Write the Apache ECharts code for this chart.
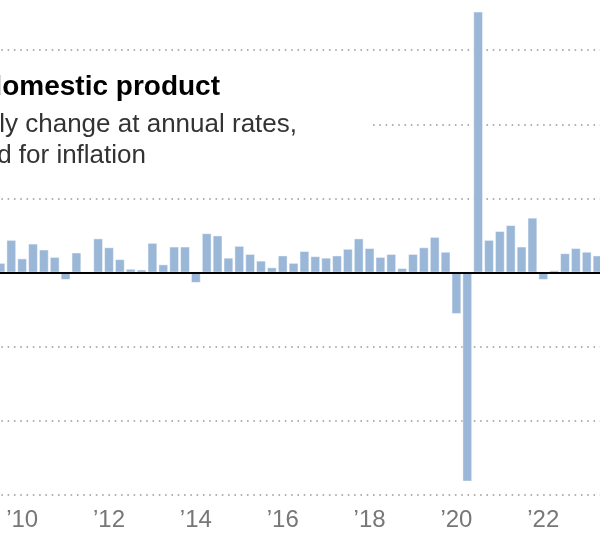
<!DOCTYPE html>
<html>
<head>
<meta charset="utf-8">
<script src="https://cdn.jsdelivr.net/npm/echarts@6/dist/echarts.min.js"></script>
<style>
  html, body { margin: 0; padding: 0; background: #fff; width: 600px; height: 549px; overflow: hidden; position: relative; }
  /* The chart is cropped on every side, as in the reference */
  #chart { position: absolute; left: -5px; top: -24px; width: 608px; height: 593px; }
</style>
</head>
<body>
<div id="chart"></div>
<script>
// Quarters shown (visible window of the chart)
const quarters = [
  "2009 Q3","2009 Q4",
  "2010 Q1","2010 Q2","2010 Q3","2010 Q4",
  "2011 Q1","2011 Q2","2011 Q3","2011 Q4",
  "2012 Q1","2012 Q2","2012 Q3","2012 Q4",
  "2013 Q1","2013 Q2","2013 Q3","2013 Q4",
  "2014 Q1","2014 Q2","2014 Q3","2014 Q4",
  "2015 Q1","2015 Q2","2015 Q3","2015 Q4",
  "2016 Q1","2016 Q2","2016 Q3","2016 Q4",
  "2017 Q1","2017 Q2","2017 Q3","2017 Q4",
  "2018 Q1","2018 Q2","2018 Q3","2018 Q4",
  "2019 Q1","2019 Q2","2019 Q3","2019 Q4",
  "2020 Q1","2020 Q2","2020 Q3","2020 Q4",
  "2021 Q1","2021 Q2","2021 Q3","2021 Q4",
  "2022 Q1","2022 Q2","2022 Q3","2022 Q4",
  "2023 Q1","2023 Q2"
];
// Real GDP, quarterly change at annual rates (%)
const gdpChange = [
  1.3, 4.4,
  1.9, 3.9, 3.1, 2.1,
  -1.0, 2.7, 0.0, 4.6,
  3.4, 1.8, 0.5, 0.4,
  4.0, 1.1, 3.5, 3.5,
  -1.4, 5.3, 5.0, 2.0,
  3.6, 2.5, 1.6, 0.7,
  2.3, 1.3, 2.9, 2.2,
  2.0, 2.3, 3.2, 4.6,
  3.3, 2.1, 2.5, 0.6,
  2.5, 3.4, 4.8, 2.8,
  -5.6, -28.2, 35.2, 4.4,
  5.6, 6.4, 3.5, 7.4,
  -1.0, 0.3, 2.6, 3.3,
  2.8, 2.3
];
// Years labelled on the x axis (at each year's first quarter)
const labelYears = ["2010","2012","2014","2016","2018","2020","2022"];
const titleText = "Gross domestic product";
const subtitleLines = ["Quarterly change at annual rates,", "adjusted for inflation"];

// page -> container offset (container is shifted by -5, -24)
const DX = 5, DY = 24;

const chart = echarts.init(document.getElementById('chart'), null, { renderer: 'canvas' });

const isLabelled = (val) => {
  const [y, q] = String(val).split(' ');
  return q === 'Q1' && labelYears.includes(y);
};

const option = {
  animation: false,
  backgroundColor: '#fff',
  grid: { left: 0, right: 0, top: 0, bottom: 0, containLabel: false },
  xAxis: {
    type: 'category',
    data: quarters,
    position: 'bottom',
    offset: -71,
    axisLine: { show: false, onZero: false },
    axisTick: { show: false },
    splitLine: { show: false },
    axisLabel: {
      interval: (idx, val) => isLabelled(val),
      hideOverlap: false,
      formatter: (val) => '\u2019' + String(val).slice(2, 4),
      color: '#777',
      fontSize: 24,
      fontFamily: '"Liberation Sans", Arial, sans-serif',
      margin: 10
    }
  },
  yAxis: {
    type: 'value',
    min: -40,
    max: 40,
    interval: 10,
    axisLine: { show: false },
    axisTick: { show: false },
    axisLabel: { show: false },
    splitLine: {
      show: true,
      lineStyle: { color: '#999', width: 1.6, type: [1.6, 4.7] }
    }
  },
  series: [{
    type: 'bar',
    data: gdpChange,
    barWidth: 9.8,
    itemStyle: { color: '#9ab7d7', borderColor: 'rgba(255,255,255,0.45)', borderWidth: 1 },
    markLine: {
      silent: true,
      symbol: 'none',
      label: { show: false },
      lineStyle: { color: '#000', width: 2, type: 'solid' },
      data: [{ yAxis: 0 }],
      z: 10
    }
  }],
  graphic: [
    {
      type: 'rect', z: 50,
      shape: { x: 0, y: 62 + DY, width: 372 + DX, height: 122 },
      style: { fill: '#fff' }
    },
    {
      type: 'text', z: 60, x: 220 + DX, y: 101 + DY,
      style: {
        text: titleText,
        font: 'bold 28px "Liberation Sans", Arial, sans-serif',
        fill: '#000',
        textAlign: 'right',
        textVerticalAlign: 'bottom'
      }
    },
    {
      type: 'text', z: 60, x: 297 + DX, y: 138 + DY,
      style: {
        text: subtitleLines[0],
        font: '26px "Liberation Sans", Arial, sans-serif',
        fill: '#333',
        textAlign: 'right',
        textVerticalAlign: 'bottom'
      }
    },
    {
      type: 'text', z: 60, x: 146 + DX, y: 169 + DY,
      style: {
        text: subtitleLines[1],
        font: '26px "Liberation Sans", Arial, sans-serif',
        fill: '#333',
        textAlign: 'right',
        textVerticalAlign: 'bottom'
      }
    }
  ]
};
chart.setOption(option);
</script>
</body>
</html>
